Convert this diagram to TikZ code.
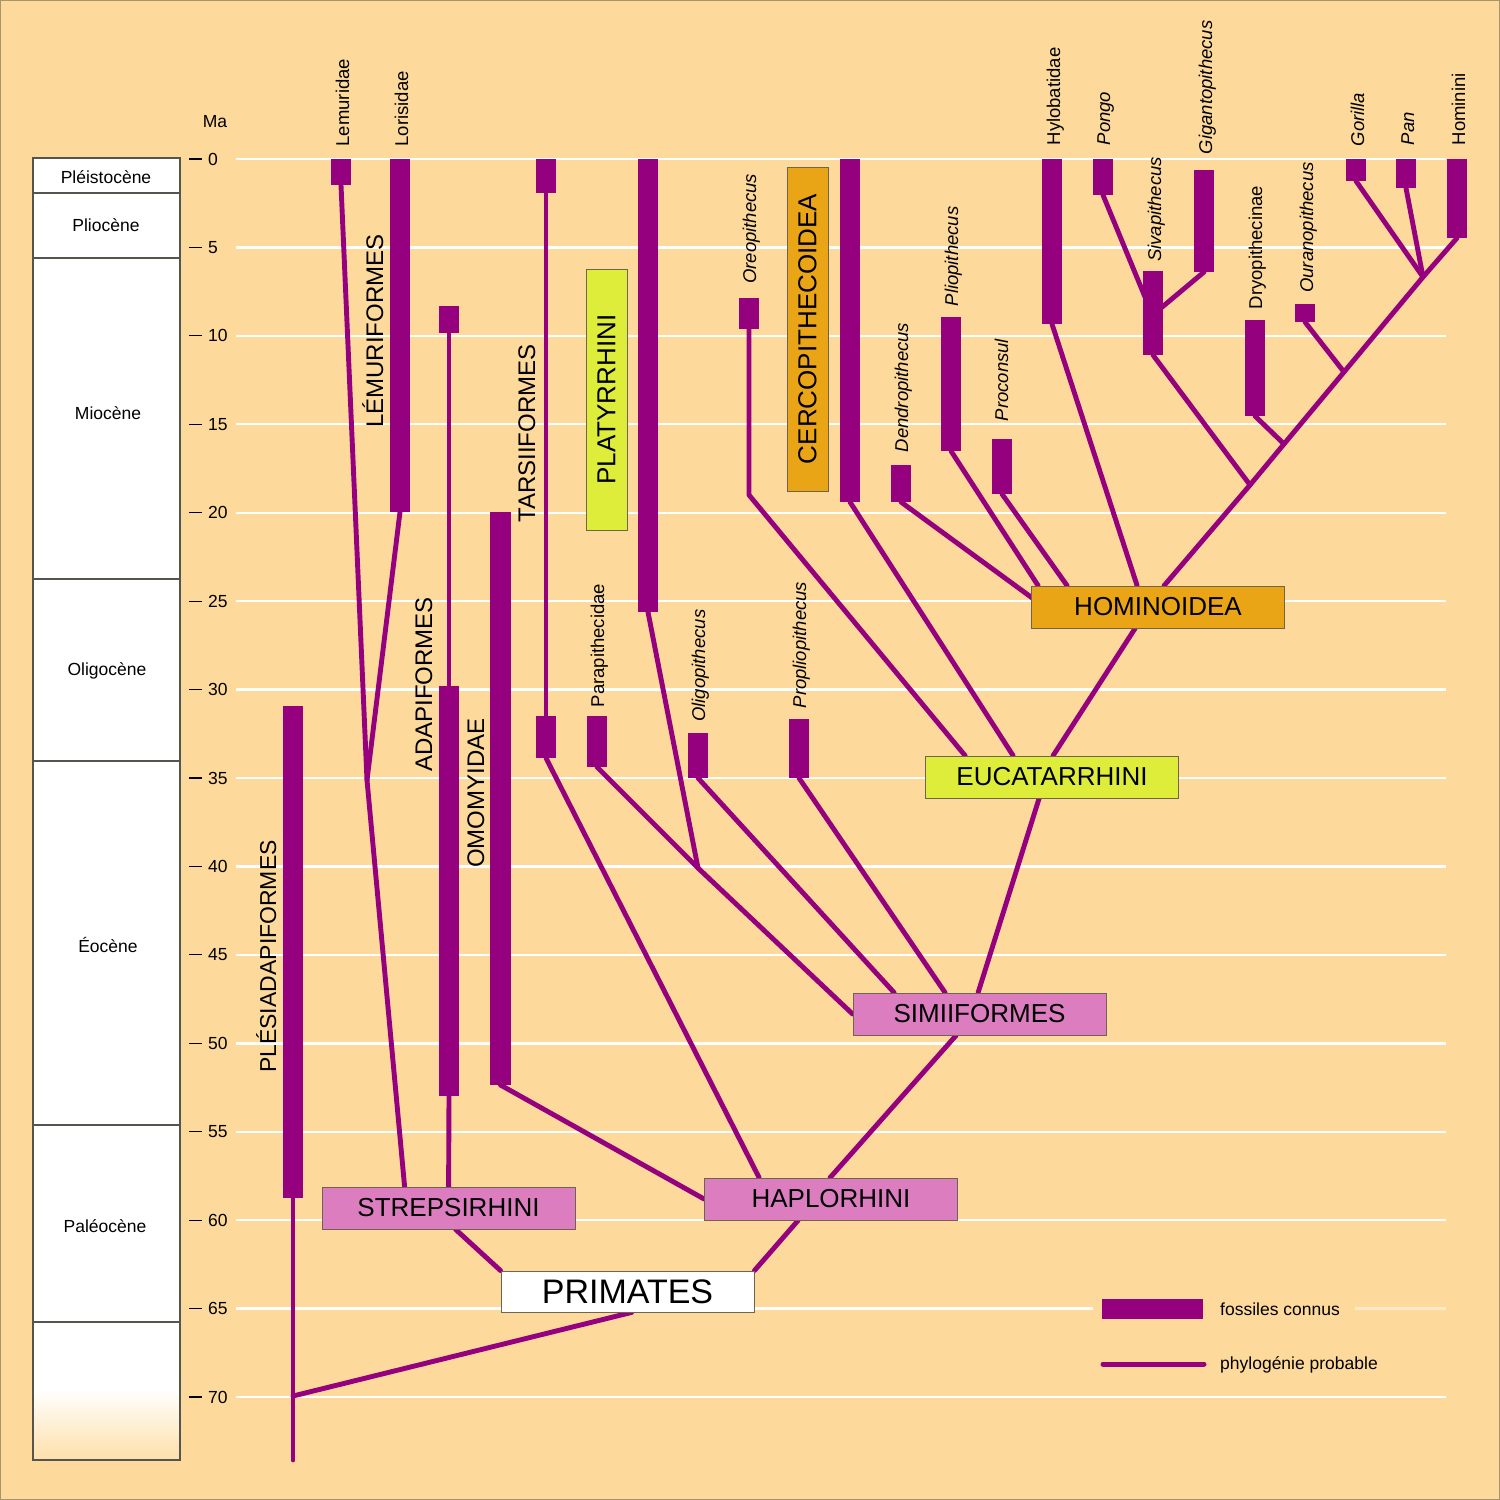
\documentclass[tikz,border=0pt]{standalone}
\usepackage{fontspec}
\setmainfont{Liberation Sans}
\usetikzlibrary{calc}
\pgfdeclarelayer{back}
\pgfdeclarelayer{lines}
\pgfsetlayers{back,lines,main}
\definecolor{bg}{RGB}{253,218,155}
\definecolor{purp}{RGB}{148,0,125}
\definecolor{pinkbox}{RGB}{219,125,191}
\definecolor{limebox}{RGB}{222,236,58}
\definecolor{orangebox}{RGB}{233,165,22}
\definecolor{boxline}{RGB}{110,100,80}
\definecolor{colline}{RGB}{85,85,80}
\definecolor{frameline}{RGB}{165,150,110}
\newcommand\fsz[1]{\fontsize{#1}{#1}\selectfont}
\begin{document}
\begin{tikzpicture}[x=1pt,y=-1pt,
  fbar/.style={fill=purp, draw=none, minimum width=20pt, inner sep=0pt, outer sep=0pt, anchor=north},
  branch/.style={draw=purp, line width=4.9pt, line cap=round, line join=round},
  gridl/.style={white, line width=2.4pt},
  taxon/.style={rotate=90, anchor=base west, inner sep=0pt, font=\fsz{18.5}},
  taxonit/.style={rotate=90, anchor=base west, inner sep=0pt, font=\fsz{18.5}\itshape},
  group/.style={rotate=90, anchor=base west, inner sep=0pt, font=\fsz{24}},
  clade/.style={draw=boxline, line width=0.8pt, inner sep=0pt, minimum width=253pt, minimum height=42pt, font=\fsz{26}},
  epoch/.style={anchor=base, inner sep=0pt, font=\fsz{17.5}},
  ticklab/.style={anchor=west, inner sep=0pt, font=\fsz{17.5}},
]
\useasboundingbox (0,0) rectangle (1500,1500);

% ---------------- background, column, grid ----------------
\begin{pgfonlayer}{back}
  \fill[bg] (0,0) rectangle (1500,1500);
  \draw[frameline, line width=1.5pt] (0,0) rectangle (1500,1500);
  \fill[white] (33,158) rectangle (180,1390);
  \shade[top color=white, bottom color=bg!85!white] (33,1389) rectangle (180,1460);
  \draw[colline, line width=1.3pt] (33,158) rectangle (180,1460);
  \foreach \yy in {193,258,579,761,1125,1322}
    \draw[colline, line width=1.3pt] (33,\yy) -- (180,\yy);
  \foreach \m in {0,5,...,70} {
    \pgfmathsetmacro\yy{159+\m*17.686}
    \ifnum\m=65
      \draw[gridl] (236,\yy) -- (1093,\yy);
      \draw[gridl, opacity=0.45] (1355,\yy) -- (1446,\yy);
    \else
      \draw[gridl] (236,\yy) -- (1446,\yy);
    \fi
    \draw[black, line width=1.1pt] (189,\yy) -- (202,\yy);
    \node[ticklab] (t\m) at (208,\yy) {\m};
  }
\end{pgfonlayer}

\node[anchor=base, inner sep=0pt, font=\fsz{17.5}] (ma) at (215,127.5) {Ma};

% epochs
\node[epoch] (e1) at (106,183) {Pléistocène};
\node[epoch] (e2) at (106,231.5) {Pliocène};
\node[epoch] (e3) at (108,419) {Miocène};
\node[epoch] (e4) at (107,675) {Oligocène};
\node[epoch] (e5) at (108,952) {Éocène};
\node[epoch] (e6) at (105,1232.5) {Paléocène};

% ---------------- fossil bars ----------------
\node[fbar, minimum height=492pt] (ples) at (293,706) {};
\node[fbar, minimum height=26pt] (lem) at (341,159) {};
\node[fbar, minimum height=353pt] (lor) at (400,159) {};
\node[fbar, minimum height=27pt] (adaT) at (449,306) {};
\node[fbar, minimum height=410pt] (adaB) at (449,686) {};
\node[fbar, minimum height=573pt, minimum width=21pt] (omo) at (500.5,512) {};
\node[fbar, minimum height=34pt] (tarT) at (546,159) {};
\node[fbar, minimum height=42pt] (tarB) at (546,716) {};
\node[fbar, minimum height=51pt] (para) at (597,716) {};
\node[fbar, minimum height=453pt] (platy) at (648,159) {};
\node[fbar, minimum height=45pt] (oligo) at (698,733) {};
\node[fbar, minimum height=31pt] (oreo) at (749,298) {};
\node[fbar, minimum height=59pt] (propl) at (799,719) {};
\node[fbar, minimum height=343pt] (cerco) at (850,159) {};
\node[fbar, minimum height=37pt] (dendro) at (901,465) {};
\node[fbar, minimum height=134pt] (plio) at (951,317) {};
\node[fbar, minimum height=55pt] (procon) at (1002,439) {};
\node[fbar, minimum height=165pt] (hylo) at (1052,159) {};
\node[fbar, minimum height=36pt] (pongo) at (1103,159) {};
\node[fbar, minimum height=84pt] (siva) at (1153,271) {};
\node[fbar, minimum height=102pt] (giganto) at (1204,170) {};
\node[fbar, minimum height=96pt] (dryo) at (1255,320) {};
\node[fbar, minimum height=18pt] (ourano) at (1305,304) {};
\node[fbar, minimum height=22pt] (gor) at (1356,159) {};
\node[fbar, minimum height=29pt] (pan) at (1406,159) {};
\node[fbar, minimum height=79pt] (homi) at (1457,159) {};

% ---------------- clade boxes ----------------
\node[clade, fill=pinkbox] (strep) at (448.5,1208) {STREPSIRHINI};
\node[clade, fill=pinkbox] (hap) at (831,1199) {HAPLORHINI};
\node[clade, fill=white, font=\fsz{34}, minimum height=41pt] (prim) at (627.5,1291.5) {PRIMATES};
\node[clade, fill=pinkbox] (sim) at (979.5,1014) {SIMIIFORMES};
\node[clade, fill=limebox] (eucat) at (1052,777) {EUCATARRHINI};
\node[clade, fill=orangebox] (hom) at (1158,607) {HOMINOIDEA};
\node[clade, fill=limebox, rotate=90, minimum width=261pt, minimum height=41pt] (platbox) at (606.5,399.5) {PLATYRRHINI};
\node[clade, fill=orangebox, rotate=90, minimum width=324pt, minimum height=41pt] (cercbox) at (807.5,329) {CERCOPITHECOIDEA};

% ---------------- group labels ----------------
\node[group, font=\fsz{23}] (lples) at (276,1073) {PLÉSIADAPIFORMES};
\node[group] (llemf) at (383,428) {LÉMURIFORMES};
\node[group] (ladap) at (432,772) {ADAPIFORMES};
\node[group] (lomo) at (484,868) {OMOMYIDAE};
\node[group] (ltars) at (535,523) {TARSIIFORMES};

% ---------------- taxon labels ----------------
\node[taxon] (llem) at (349,146.5) {Lemuridae};
\node[taxon] (llor) at (408,146.5) {Lorisidae};
\node[taxon] (lpara) at (604,707.5) {Parapithecidae};
\node[taxonit] (loligo) at (705,722) {Oligopithecus};
\node[taxonit] (lpropl) at (806,708.5) {Propliopithecus};
\node[taxonit] (loreo) at (756,284) {Oreopithecus};
\node[taxonit] (ldendro) at (908,452.5) {Dendropithecus};
\node[taxonit] (lplio) at (958,306.5) {Pliopithecus};
\node[taxonit] (lprocon) at (1008,421.5) {Proconsul};
\node[taxon] (lhylo) at (1060,145.5) {Hylobatidae};
\node[taxonit] (lpongo) at (1110,145.5) {Pongo};
\node[taxonit] (lsiva) at (1161,262) {Sivapithecus};
\node[taxonit] (lgig) at (1212,154.5) {Gigantopithecus};
\node[taxon] (ldryo) at (1262,309.5) {Dryopithecinae};
\node[taxonit] (lour) at (1313,293) {Ouranopithecus};
\node[taxonit] (lgor) at (1364,146.5) {Gorilla};
\node[taxonit] (lpan) at (1414,145.5) {Pan};
\node[taxon] (lhomi) at (1465,145.5) {Hominini};

% ---------------- junctions ----------------
\coordinate (jlem) at (367,780);
\coordinate (j70) at (293,1396);
\coordinate (pend) at (293,1460);
\coordinate (jplat) at (698,868);
\coordinate (jore) at (749,495);
\coordinate (jsiv) at (1250,485);
\coordinate (jdry) at (1284,444);
\coordinate (jour) at (1344,372);
\coordinate (jgp) at (1423,277);
\coordinate (jpg) at (1145,297);
\coordinate (jgg) at (1161,308);

% ---------------- legend ----------------
\node[fbar, minimum width=101pt, minimum height=20pt] (legbar) at (1152.5,1299) {};
\node[anchor=base west, inner sep=0pt, font=\fsz{17.5}] (legt1) at (1220,1315.5) {fossiles connus};
\coordinate (legA) at (1103,1364);
\coordinate (legB) at (1204,1364);
\node[anchor=base west, inner sep=0pt, font=\fsz{17.5}] (legt2) at (1220,1369.5) {phylogénie probable};

% ---------------- branches ----------------
\begin{pgfonlayer}{lines}
  \draw[branch, line width=5pt] (legA) -- (legB);
  % plesiadapiformes & primates root
  \draw[branch] (ples.south) -- (pend);
  \draw[branch] ($(prim.south west)+(131,0)$) -- (j70);
  % strepsirhini
  \draw[branch] (lem.south) -- (jlem) -- ($(strep.north west)+(83,0)$);
  \draw[branch] (lor.south) -- (jlem);
  \draw[branch] (adaT.south) -- (adaB.north);
  \draw[branch] (adaB.south) -- ($(strep.north west)+(127,0)$);
  \draw[branch] ($(strep.south west)+(134,0)$) -- (prim.north west);
  % haplorhini
  \draw[branch] (omo.south) -- (hap.west);
  \draw[branch] (tarT.south) -- (tarB.north);
  \draw[branch] (tarB.south) -- ($(hap.north west)+(55,0)$);
  \draw[branch] ($(hap.south west)+(94,0)$) -- (prim.north east);
  \draw[branch] ($(sim.south west)+(103.5,0)$) -- ($(hap.north west)+(126,0)$);
  % simiiformes
  \draw[branch] (para.south) -- (jplat) -- (sim.west);
  \draw[branch] (platy.south) -- (jplat);
  \draw[branch] (oligo.south) -- ($(sim.north west)+(41.5,0)$);
  \draw[branch] (propl.south) -- ($(sim.north west)+(92.5,0)$);
  \draw[branch] ($(eucat.south west)+(114,0)$) -- ($(sim.north west)+(125.5,0)$);
  % eucatarrhini
  \draw[branch] (oreo.south) -- (jore) -- ($(eucat.north west)+(40,0)$);
  \draw[branch] (cerco.south) -- ($(eucat.north west)+(88,0)$);
  \draw[branch] ($(hom.south west)+(104,0)$) -- ($(eucat.north west)+(128,0)$);
  % hominoidea
  \draw[branch] (dendro.south) -- ($(hom.north west)+(2,13)$);
  \draw[branch] (plio.south) -- ($(hom.north west)+(7,0)$);
  \draw[branch] (procon.south) -- ($(hom.north west)+(36,0)$);
  \draw[branch] (hylo.south) -- ($(hom.north west)+(106,0)$);
  \draw[branch] ($(hom.north west)+(133,0)$) -- (jsiv) -- (jdry) -- (jour) -- (jgp) -- (homi.south);
  \draw[branch] (siva.south) -- (jsiv);
  \draw[branch] (dryo.south) -- (jdry);
  \draw[branch] (ourano.south) -- (jour);
  \draw[branch] (gor.south) -- (jgp);
  \draw[branch] (pan.south) -- (jgp);
  \draw[branch] (pongo.south) -- (jpg);
  \draw[branch] (giganto.south) -- (jgg);
\end{pgfonlayer}
\end{tikzpicture}
\end{document}
